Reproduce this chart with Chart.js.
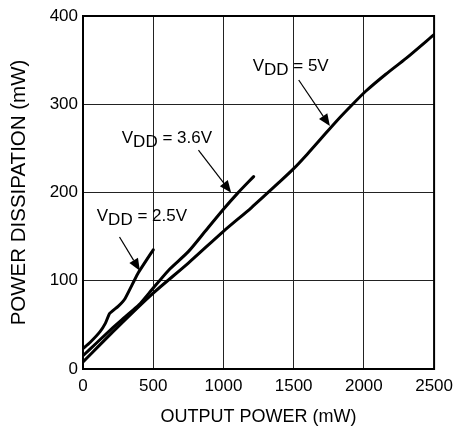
<!DOCTYPE html>
<html>
<head>
<meta charset="utf-8">
<script src="https://cdn.jsdelivr.net/npm/chart.js@4.4.1/dist/chart.umd.min.js"></script>
<style>
  html, body { margin: 0; padding: 0; background: #fff; }
  #wrap { width: 460px; height: 435px; }
</style>
</head>
<body>
<div id="wrap"><canvas id="c" width="460" height="435"></canvas></div>
<script>
// ---- Data ----
const xTicks = [0, 500, 1000, 1500, 2000, 2500];
const yTicks = [0, 100, 200, 300, 400];

const vdd25X = [0, 50, 120, 160, 190, 250, 300, 390, 500];
const vdd25Y = [23, 30, 42, 52, 63, 71, 80, 108, 135];

const vdd36X = [0, 100, 200, 300, 400, 470, 610, 750, 870, 1000, 1100, 1215];
const vdd36Y = [15, 30, 45, 59, 73, 86, 112, 133, 156, 181, 199, 218];

const vdd5X = [0, 250, 500, 750, 1000, 1200, 1400, 1500, 1600, 1700, 1800, 1920, 2015, 2156, 2300, 2500];
const vdd5Y = [8, 48, 86, 120, 156, 183, 212, 227, 244, 262, 280, 300, 315, 334, 352, 379];

const labelTexts = ["2.5V", "3.6V", "5V"];

// ---- Annotation placement (data units) ----
const labelPos = [
  { x: 98,   y: 167.7 },
  { x: 276,  y: 255.7 },
  { x: 1208, y: 337.7 }
];
const arrowPos = [
  { x0: 260,  y0: 149.6, x1: 405,  y1: 111.4 },
  { x0: 822,  y0: 248,   x1: 1055, y1: 199.8 },
  { x0: 1536, y0: 327.5, x1: 1758, y1: 275.3 }
];

const FONT = '"Liberation Sans", Arial, Helvetica, sans-serif';

function pts(xs, ys) { return xs.map((x, i) => ({ x: x, y: ys[i] })); }

const annotPlugin = {
  id: 'annot',
  afterDraw(chart) {
    const { ctx, chartArea, scales } = chart;
    const sx = scales.x, sy = scales.y;
    ctx.save();
    // frame
    ctx.strokeStyle = '#000';
    ctx.lineWidth = 2;
    ctx.strokeRect(chartArea.left, chartArea.top, chartArea.right - chartArea.left, chartArea.bottom - chartArea.top);
    // labels
    ctx.fillStyle = '#000';
    ctx.textBaseline = 'alphabetic';
    ctx.textAlign = 'left';
    labelTexts.forEach((t, i) => {
      let px = sx.getPixelForValue(labelPos[i].x);
      const py = sy.getPixelForValue(labelPos[i].y);
      ctx.font = '17px ' + FONT;
      ctx.fillText('V', px, py);
      px += ctx.measureText('V').width;
      ctx.fillText('DD', px, py + 4);
      px += ctx.measureText('DD').width;
      ctx.fillText(' = ' + t, px, py);
    });
    // arrows
    arrowPos.forEach(a => {
      const x0 = sx.getPixelForValue(a.x0), y0 = sy.getPixelForValue(a.y0);
      const x1 = sx.getPixelForValue(a.x1), y1 = sy.getPixelForValue(a.y1);
      const ang = Math.atan2(y1 - y0, x1 - x0);
      const hl = 12, hw = 5;
      const bx = x1 - hl * Math.cos(ang), by = y1 - hl * Math.sin(ang);
      ctx.strokeStyle = '#000';
      ctx.lineWidth = 1.2;
      ctx.beginPath();
      ctx.moveTo(x0, y0);
      ctx.lineTo(bx, by);
      ctx.stroke();
      ctx.beginPath();
      ctx.moveTo(x1, y1);
      ctx.lineTo(bx + hw * Math.sin(ang), by - hw * Math.cos(ang));
      ctx.lineTo(bx - hw * Math.sin(ang), by + hw * Math.cos(ang));
      ctx.closePath();
      ctx.fill();
    });
    ctx.restore();
  }
};

const lineStyle = {
  borderColor: '#000',
  backgroundColor: '#000',
  borderWidth: 3,
  pointRadius: 0,
  fill: false,
  tension: 0.25,
  borderCapStyle: 'round',
  borderJoinStyle: 'round'
};

new Chart(document.getElementById('c'), {
  type: 'line',
  data: {
    datasets: [
      Object.assign({ label: 'VDD = 2.5V', data: pts(vdd25X, vdd25Y) }, lineStyle, { tension: 0.15 }),
      Object.assign({ label: 'VDD = 3.6V', data: pts(vdd36X, vdd36Y) }, lineStyle),
      Object.assign({ label: 'VDD = 5V', data: pts(vdd5X, vdd5Y) }, lineStyle)
    ]
  },
  options: {
    responsive: false,
    animation: false,
    devicePixelRatio: 1,
    layout: { padding: { top: 16, right: 21, left: 0, bottom: 0 } },
    plugins: { legend: { display: false }, tooltip: { enabled: false } },
    scales: {
      x: {
        type: 'linear',
        min: xTicks[0], max: xTicks[xTicks.length - 1],
        afterBuildTicks: s => { s.ticks = xTicks.map(v => ({ value: v })); },
        afterFit: s => { s.height = 66; },
        ticks: { color: '#000', font: { family: FONT, size: 17 }, padding: 7, maxRotation: 0, callback: v => String(v) },
        grid: { color: '#222', lineWidth: 1, drawTicks: false },
        border: { color: '#000', width: 2 },
        title: { display: true, text: 'OUTPUT POWER (mW)', color: '#000', font: { family: FONT, size: 18 }, padding: { top: 0, bottom: 7 } }
      },
      y: {
        type: 'linear',
        min: yTicks[0], max: yTicks[yTicks.length - 1],
        afterBuildTicks: s => { s.ticks = yTicks.map(v => ({ value: v })); },
        afterFit: s => { s.width = 83; },
        ticks: { color: '#000', font: { family: FONT, size: 17 }, padding: 5, callback: v => String(v) },
        grid: { color: '#222', lineWidth: 1, drawTicks: false },
        border: { color: '#000', width: 2 },
        title: { display: true, text: 'POWER DISSIPATION (mW)', color: '#000', font: { family: FONT, size: 20.5 }, padding: { top: 7, bottom: 0 } }
      }
    }
  },
  plugins: [annotPlugin]
});
</script>
</body>
</html>
